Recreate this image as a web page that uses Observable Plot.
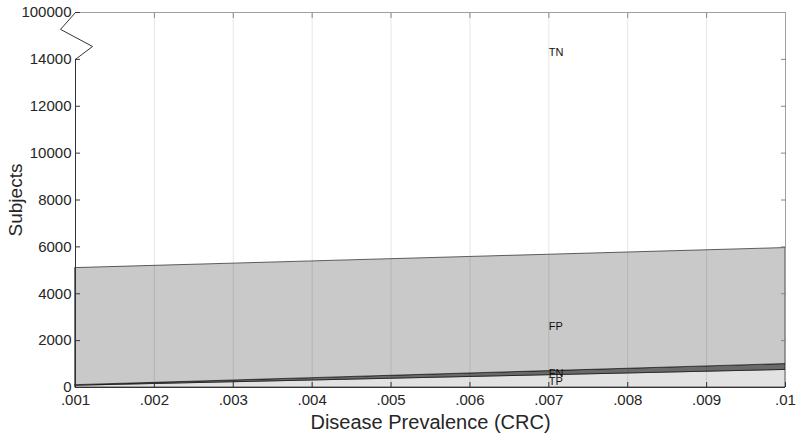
<!DOCTYPE html>
<html><head><meta charset="utf-8">
<script src="https://cdn.jsdelivr.net/npm/d3@7"></script>
<script src="https://cdn.jsdelivr.net/npm/@observablehq/plot@0.6"></script>
<style>
body{margin:0;background:#fff}
svg{font-family:"Liberation Sans",Arial,Helvetica,sans-serif}
</style>
</head><body><div id="chart"></div>
<script>
// Disease prevalence (x) and subjects per outcome (out of 100000)
const prevalence = [0.001,0.002,0.003,0.004,0.005,0.006,0.007,0.008,0.009,0.010];
const tpValues = [75,150,225,300,375,450,525,600,675,750];
const fnValues = [25,50,75,100,125,150,175,200,225,250];
const fpValues = [4995,4990,4985,4980,4975,4970,4965,4960,4955,4950];
const tnValues = [94905,94810,94715,94620,94525,94430,94335,94240,94145,94050];

const seriesNames = ["TP","FN","FP","TN"];
const seriesFill = {TP:"#e2e2e2", FN:"#6a6a6a", FP:"#c9c9c9", TN:"#ffffff"};

// broken y axis: the top of the axis (display 16000) stands for 100000
const breakValue = 16000;
const yTicks = [0,2000,4000,6000,8000,10000,12000,14000,16000];
const yTickLabels = ["0","2000","4000","6000","8000","10000","12000","14000","100000"];
const xTicks = [0.001,0.002,0.003,0.004,0.005,0.006,0.007,0.008,0.009,0.010];
const xTickLabels = [".001",".002",".003",".004",".005",".006",".007",".008",".009",".01"];

const labelNames = ["TN","FP","FN","TP"];
const labelX = [0.007,0.007,0.007,0.007];
const labelY = [14300,2600,600,250];

// axis-break zigzag (in data units)
const breakX = [0.001,0.001216,0.00081,0.001];
const breakY = [14000,14550,15280,16000];

// build stacked bands
const bands = [];
prevalence.forEach((p,i)=>{
  const vals = {TP:tpValues[i], FN:fnValues[i], FP:fpValues[i], TN:tnValues[i]};
  let base = 0;
  for (const s of seriesNames) {
    let top = base + vals[s];
    if (s === "TN") top = breakValue;
    bands.push({p, series:s, y1:base, y2:top});
    base = top;
  }
});
const labelRows = labelNames.map((n,i)=>({n, x:labelX[i], y:labelY[i]}));
const breakRows = breakX.map((x,i)=>({x, y:breakY[i]}));
const fmtY = d => yTickLabels[yTicks.indexOf(d)];
const fmtX = d => xTickLabels[xTicks.findIndex(t=>Math.abs(t-d)<1e-9)];
const noLabel = () => "";

const chart = Plot.plot({
  width: 800, height: 443,
  marginLeft: 75, marginRight: 15, marginTop: 12, marginBottom: 56,
  x: {domain:[0.001,0.010]},
  y: {domain:[0,breakValue]},
  style: {fontSize:"15px", color:"#262626", background:"#fff"},
  marks: [
    ...seriesNames.filter(s=>s!=="TN").map(s =>
      Plot.areaY(bands.filter(b=>b.series===s), {x:"p", y1:"y1", y2:"y2", fill:seriesFill[s], stroke:"#000", strokeWidth:0.6})
    ),
    Plot.ruleX(xTicks.slice(1,-1), {stroke:"#000", strokeOpacity:0.1, strokeWidth:1}),
    // box
    Plot.ruleY([breakValue], {stroke:"#a0a0a0", strokeWidth:1}),
    Plot.ruleX([0.010], {y1:0, y2:breakValue, stroke:"#a0a0a0", strokeWidth:1}),
    Plot.ruleY([0], {stroke:"#333", strokeWidth:1}),
    Plot.ruleX([0.001], {y1:0, y2:14000, stroke:"#333", strokeWidth:1}),
    Plot.line(breakRows, {x:"x", y:"y", stroke:"#333", strokeWidth:1}),
    Plot.axisX({ticks:xTicks, tickFormat:fmtX, tickSize:-5, tickPadding:12, stroke:"#333",
      label:"Disease Prevalence (CRC)", labelAnchor:"center", labelArrow:"none", labelOffset:41, fontSize:15}),
    Plot.axisX({anchor:"top", ticks:xTicks.slice(1,-1), tickFormat:noLabel, tickSize:-5, stroke:"#888", label:null}),
    Plot.axisY({ticks:yTicks, tickFormat:fmtY, tickSize:-5, tickPadding:9, stroke:"#333",
      label:"Subjects", labelAnchor:"center", labelArrow:"none", labelOffset:67, fontSize:15}),
    Plot.axisY({anchor:"right", ticks:yTicks.slice(1,-1), tickFormat:noLabel, tickSize:-5, stroke:"#888", label:null}),
    Plot.text(labelRows, {x:"x", y:"y", text:"n", textAnchor:"start", fontSize:11, fill:"#111"})
  ]
});
document.getElementById("chart").appendChild(chart);
// enlarge axis titles
chart.querySelectorAll('[aria-label="x-axis label"] text').forEach(t=>{t.style.fontSize="20px";});
chart.querySelectorAll('[aria-label="y-axis label"] text').forEach(t=>{t.style.fontSize="19px";});
</script>
</body></html>
